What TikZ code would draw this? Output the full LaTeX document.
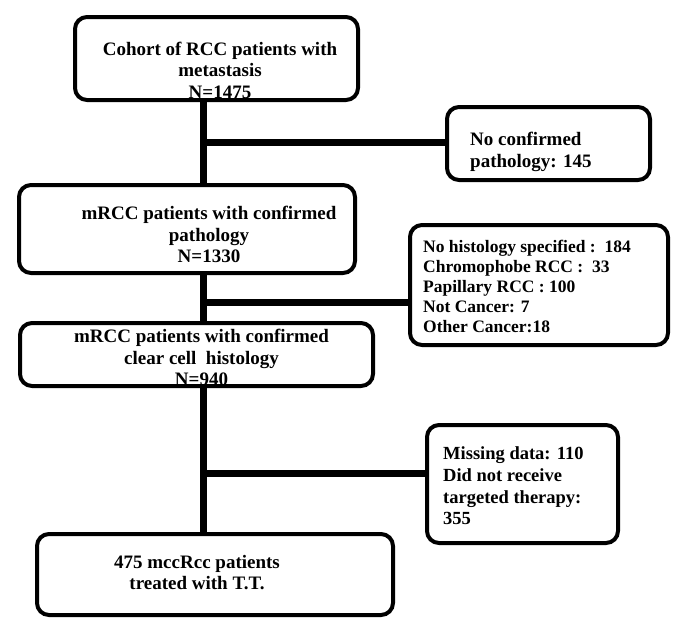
\documentclass[tikz,border=0pt]{standalone}
\usepackage{fontspec}
\setmainfont{Liberation Serif}
\begin{document}
\begin{tikzpicture}[x=1pt,y=-1pt,
  box/.style={draw, line width=4pt, rounded corners=12pt, inner sep=0pt, outer sep=0pt},
  conn/.style={line width=7pt},
  txt/.style={font=\bfseries\fontsize{19}{21.5}\selectfont, inner sep=0pt},
  mtxt/.style={font=\bfseries\fontsize{18.5}{21.7}\selectfont, inner sep=0pt},
  stxt/.style={font=\bfseries\fontsize{17.5}{20}\selectfont, inner sep=0pt}]
\useasboundingbox (0,0) rectangle (686,633);
% boxes
\node[box, minimum width=283pt, minimum height=83pt] (b1) at (216.5,58.5) {};
\node[box, minimum width=203pt, minimum height=73pt] (e1) at (548.5,143.5) {};
\node[box, minimum width=336pt, minimum height=88pt] (b2) at (187,229) {};
\node[box, minimum width=258pt, minimum height=120pt] (e2) at (539,285) {};
\node[box, minimum width=353pt, minimum height=63pt] (b4) at (196.5,354.5) {};
\node[box, minimum width=191pt, minimum height=118pt] (e3) at (522.5,484) {};
\node[box, minimum width=356pt, minimum height=81pt] (b6) at (215,574.5) {};
% spine and branches
\coordinate (s) at (203.5,0);
\coordinate (j1) at (203.5,142);
\coordinate (j2) at (203.5,302);
\coordinate (j3) at (203.5,473);
\draw[conn] (b1.south -| s) -- (b2.north -| s);
\draw[conn] (b2.south -| s) -- (b4.north -| s);
\draw[conn] (b4.south -| s) -- (b6.north -| s);
\draw[conn] (j1) -- (j1 -| e1.west);
\draw[conn] (j2) -- (j2 -| e2.west);
\draw[conn] (j3) -- (j3 -| e3.west);
% texts
\node[txt, align=center] (t1) at (220,70) {Cohort of RCC patients with\\metastasis\\N=1475};
\node[txt, align=left, anchor=west] (t2) at (470,152) {No confirmed\\pathology: 145};
\node[txt, align=center] (t3) at (209,234.5) {mRCC patients with confirmed\\pathology\\N=1330};
\node[stxt, align=left, anchor=west] (t4) at (423,286.7) {No histology specified :\ \ 184\\Chromophobe RCC :\ \ 33\\Papillary RCC : 100\\Not Cancer: 7\\Other Cancer:18};
\node[txt, align=center] (t5) at (201.5,357.5) {mRCC patients with confirmed\\clear cell\ \ histology\\N=940};
\node[mtxt, align=left, anchor=west] (t6) at (443,486) {Missing data: 110\\Did not receive\\targeted therapy:\\355};
\node[txt, align=center] (t7) at (197,572.5) {475 mccRcc patients\\treated with T.T.};
\end{tikzpicture}
\end{document}
